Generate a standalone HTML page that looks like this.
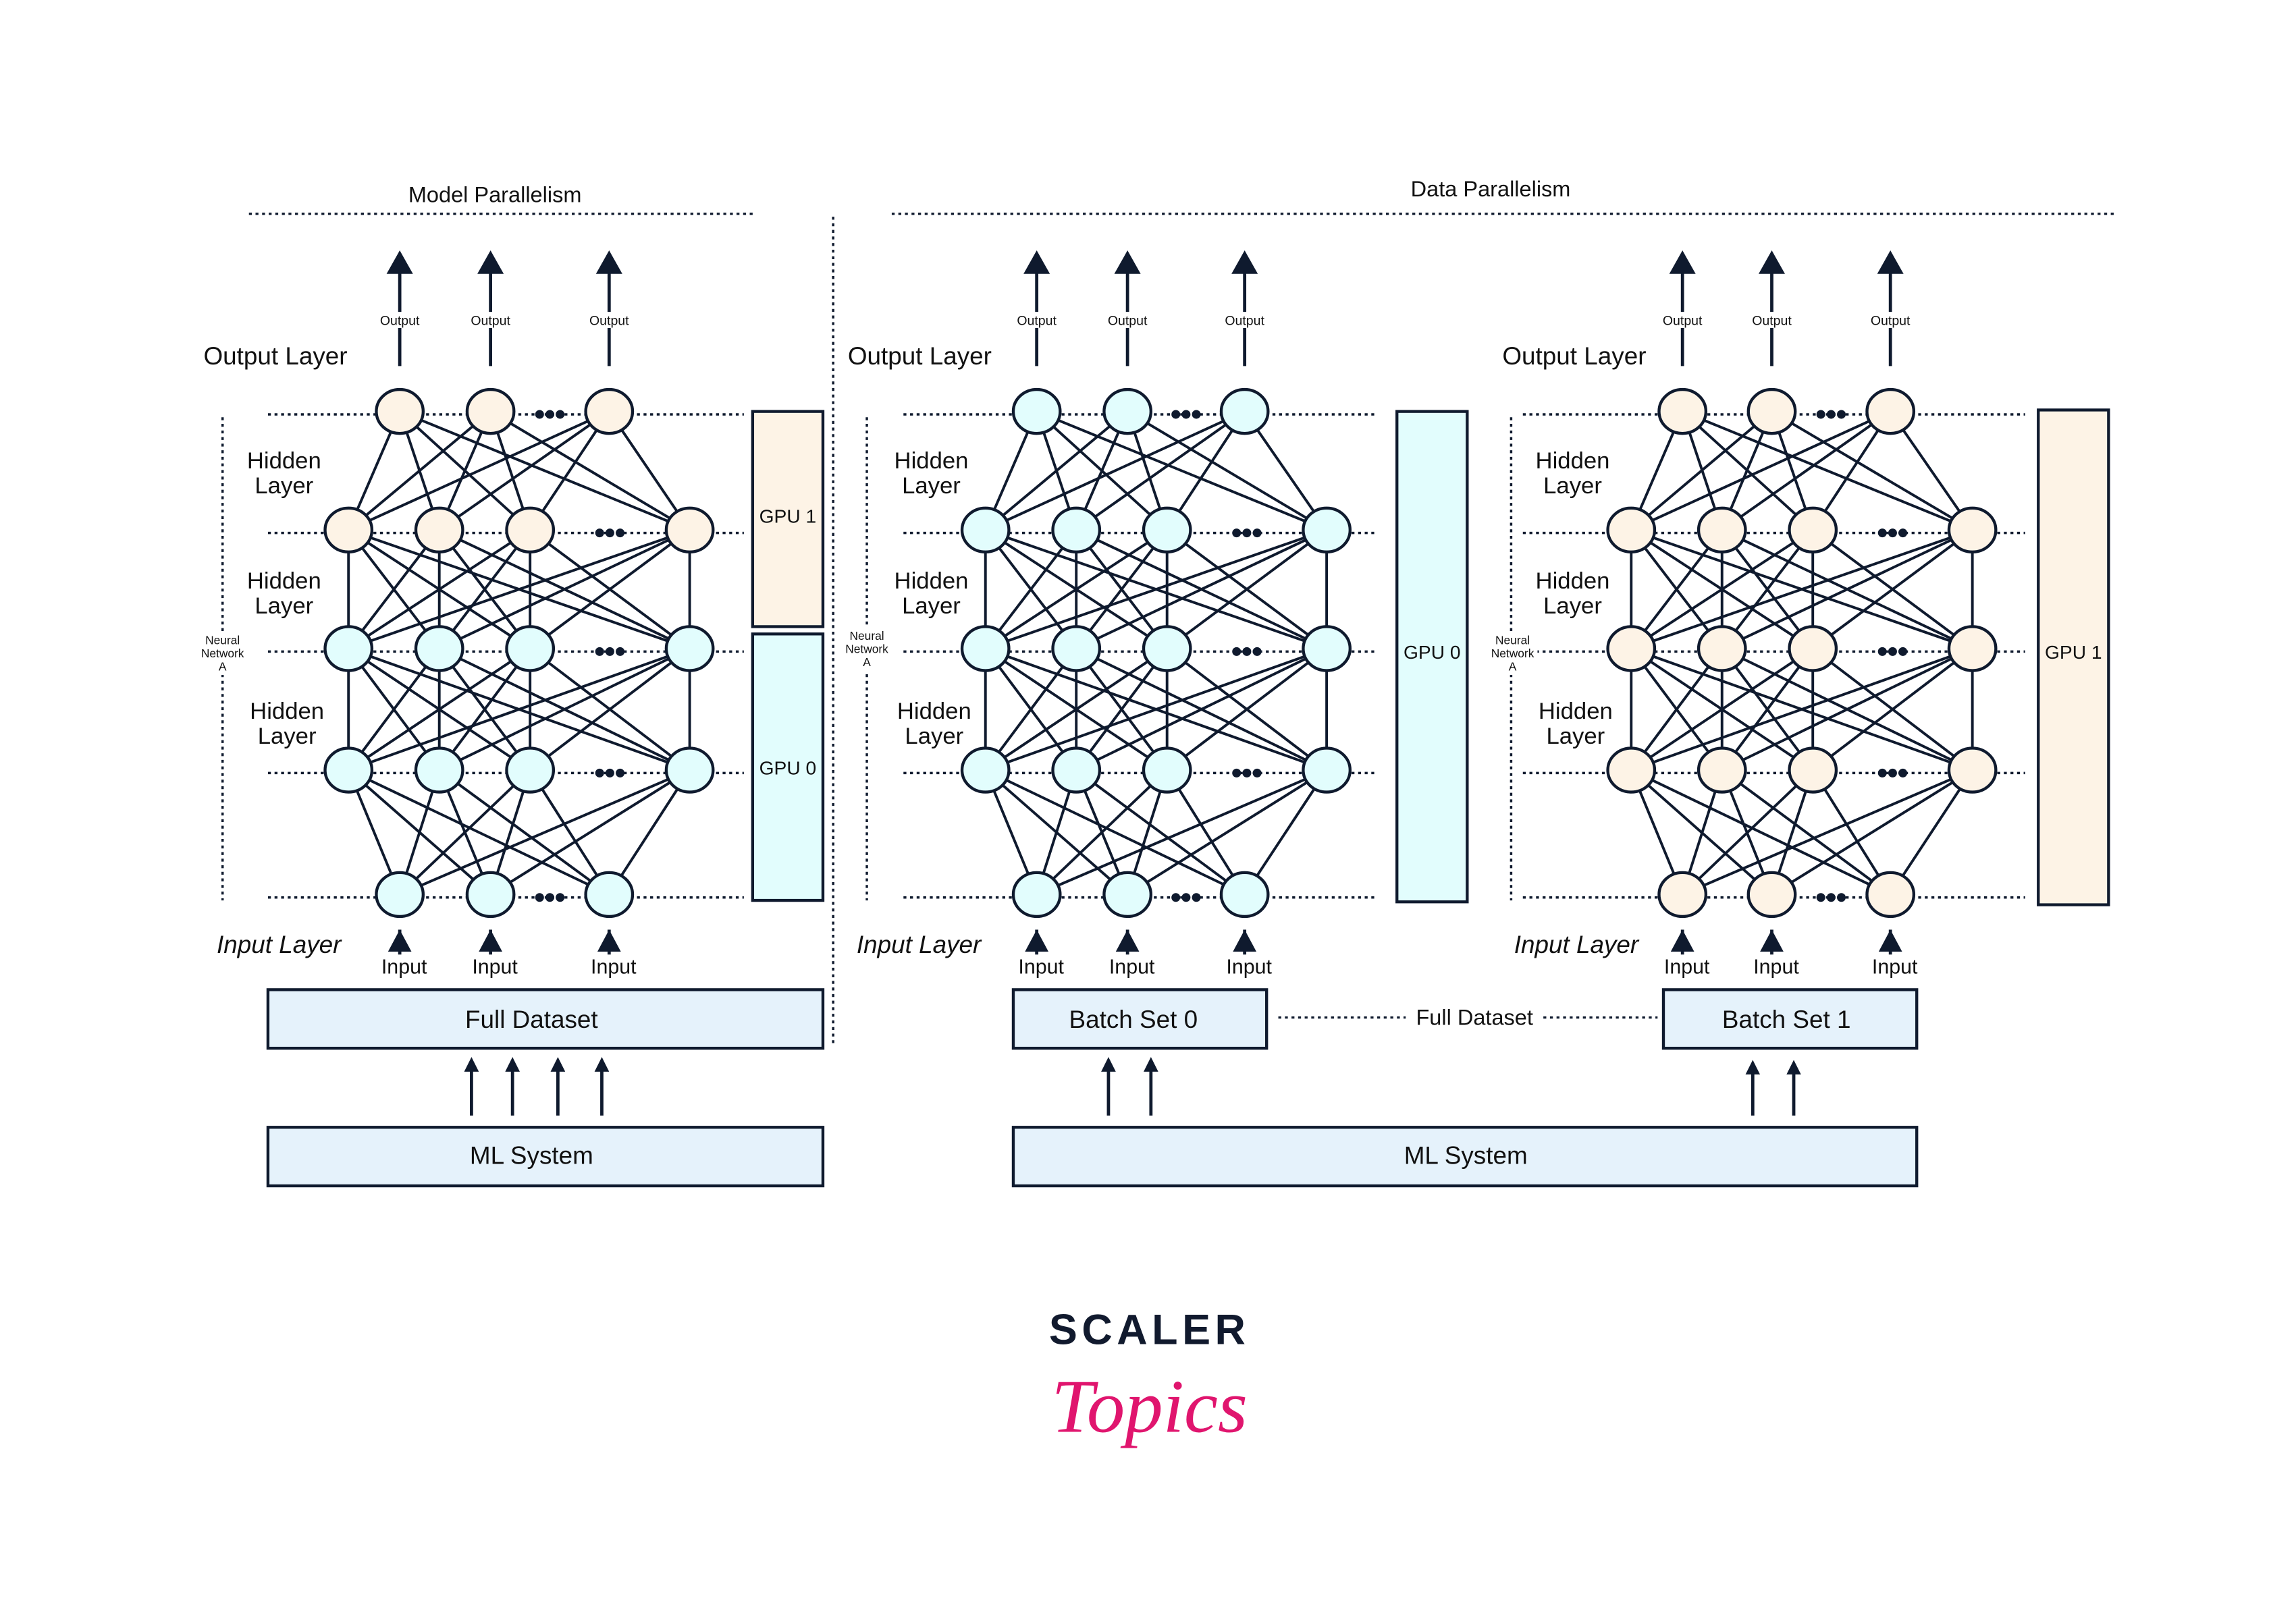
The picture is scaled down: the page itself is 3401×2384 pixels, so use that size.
<!DOCTYPE html>
<html><head><meta charset="utf-8"><style>
html,body{margin:0;padding:0;background:#fff}
svg{display:block}
text{font-family:"Liberation Sans","DejaVu Sans",sans-serif;fill:#111}
</style></head><body>
<svg id="s" xmlns="http://www.w3.org/2000/svg" width="3401" height="2384" viewBox="0 0 1568 1099">
<defs><marker id="ah" markerWidth="10" markerHeight="10" refX="5" refY="5" orient="auto" markerUnits="userSpaceOnUse" viewBox="0 0 10 10"><path d="M0,0 L10,5 L0,10 z" fill="#0f1a2e"/></marker></defs>
<rect width="1568" height="1099" fill="#fff"/>
<g id="dots" stroke="#0f1a2e" stroke-width="1.6" stroke-dasharray="2,2.5" fill="none">
<line x1="170" y1="146" x2="514" y2="146"/>
<line x1="609" y1="146" x2="1445" y2="146"/>
<line x1="569" y1="148" x2="569" y2="715"/>
<line x1="152" y1="285" x2="152" y2="615"/>
<line x1="592" y1="285" x2="592" y2="615"/>
<line x1="1032" y1="285" x2="1032" y2="615"/>
</g>
<g id="net"></g>
<g font-size="15">
<text x="338" y="138" text-anchor="middle">Model Parallelism</text>
<text x="1018" y="134" text-anchor="middle">Data Parallelism</text>
</g>
<g font-size="17">
<text x="139" y="249">Output Layer</text>
<text x="579" y="249">Output Layer</text>
<text x="1026" y="249">Output Layer</text>
<text x="148" y="651" font-style="italic">Input Layer</text>
<text x="585" y="651" font-style="italic">Input Layer</text>
<text x="1034" y="651" font-style="italic">Input Layer</text>
</g>
<g font-size="16" text-anchor="middle">
<text x="194" y="320">Hidden</text><text x="194" y="337">Layer</text>
<text x="194" y="402">Hidden</text><text x="194" y="419">Layer</text>
<text x="196" y="491">Hidden</text><text x="196" y="508">Layer</text>
<text x="636" y="320">Hidden</text><text x="636" y="337">Layer</text>
<text x="636" y="402">Hidden</text><text x="636" y="419">Layer</text>
<text x="638" y="491">Hidden</text><text x="638" y="508">Layer</text>
<text x="1074" y="320">Hidden</text><text x="1074" y="337">Layer</text>
<text x="1074" y="402">Hidden</text><text x="1074" y="419">Layer</text>
<text x="1076" y="491">Hidden</text><text x="1076" y="508">Layer</text>
</g>
<g fill="#fff">
<rect x="135" y="431" width="34" height="30"/>
<rect x="575" y="428" width="34" height="30"/>
<rect x="1016" y="431" width="34" height="30"/>
</g>
<g font-size="8" text-anchor="middle">
<text x="152" y="440">Neural</text><text x="152" y="449">Network</text><text x="152" y="458">A</text>
<text x="592" y="437">Neural</text><text x="592" y="446">Network</text><text x="592" y="455">A</text>
<text x="1033" y="440">Neural</text><text x="1033" y="449">Network</text><text x="1033" y="458">A</text>
</g>
<g stroke="#0f1a2e" stroke-width="2">
<rect x="514" y="281" width="48" height="147" fill="#fdf3e6"/>
<rect x="514" y="433" width="48" height="182" fill="#e2fdfd"/>
<rect x="954" y="281" width="48" height="335" fill="#e2fdfd"/>
<rect x="1392" y="280" width="48" height="338" fill="#fdf3e6"/>
<rect x="183" y="676" width="379" height="40" fill="#e5f2fb"/>
<rect x="183" y="770" width="379" height="40" fill="#e5f2fb"/>
<rect x="692" y="676" width="173" height="40" fill="#e5f2fb"/>
<rect x="1136" y="676" width="173" height="40" fill="#e5f2fb"/>
<rect x="692" y="770" width="617" height="40" fill="#e5f2fb"/>
</g>
<g font-size="13" text-anchor="middle">
<text x="538" y="357">GPU 1</text>
<text x="538" y="529">GPU 0</text>
<text x="978" y="450">GPU 0</text>
<text x="1416" y="450">GPU 1</text>
</g>
<g font-size="17" text-anchor="middle">
<text x="363" y="702">Full Dataset</text>
<text x="363" y="795">ML System</text>
<text x="774" y="702">Batch Set 0</text>
<text x="1220" y="702">Batch Set 1</text>
<text x="1001" y="795">ML System</text>
</g>
<line x1="873" y1="695" x2="960" y2="695" stroke="#0f1a2e" stroke-width="1.5" stroke-dasharray="2,2.5"/>
<line x1="1054" y1="695" x2="1132" y2="695" stroke="#0f1a2e" stroke-width="1.5" stroke-dasharray="2,2.5"/>
<text x="1007" y="700" font-size="15" text-anchor="middle">Full Dataset</text>
<g stroke="#0f1a2e" stroke-width="2.2" marker-end="url(#ah)">
<line x1="322" y1="762" x2="322" y2="727"/><line x1="350" y1="762" x2="350" y2="727"/>
<line x1="381" y1="762" x2="381" y2="727"/><line x1="411" y1="762" x2="411" y2="727"/>
<line x1="757" y1="762" x2="757" y2="727"/><line x1="786" y1="762" x2="786" y2="727"/>
<line x1="1197" y1="762" x2="1197" y2="729"/><line x1="1225" y1="762" x2="1225" y2="729"/>
</g>
<text x="785" y="918" font-size="29" font-weight="bold" text-anchor="middle" letter-spacing="3" style="fill:#111a2e">SCALER</text>
<text x="785" y="978" font-size="52" font-style="italic" text-anchor="middle" style="fill:#e0156e;font-family:'Liberation Serif',serif">Topics</text>
<script>
(function(){
var g=document.getElementById('net'),NS='http://www.w3.org/2000/svg';
function el(n,a,p){var e=document.createElementNS(NS,n);for(var k in a)e.setAttribute(k,a[k]);(p||g).appendChild(e);return e;}
var nets=[
 {o:[273,335,416],h:[238,300,362,471],c:['#fdf3e6','#fdf3e6','#e2fdfd','#e2fdfd','#e2fdfd'],dl:183,dr:508},
 {o:[708,770,850],h:[673,735,797,906],c:['#e2fdfd','#e2fdfd','#e2fdfd','#e2fdfd','#e2fdfd'],dl:617,dr:940},
 {o:[1149,1210,1291],h:[1114,1176,1238,1347],c:['#fdf3e6','#fdf3e6','#fdf3e6','#fdf3e6','#fdf3e6'],dl:1040,dr:1383}];
var ys=[281,362,443,526,611];
nets.forEach(function(n){
 var rows=[n.o,n.h,n.h,n.h,n.o];
 ys.forEach(function(y,i){
  el('line',{x1:n.dl,y1:y+2,x2:n.dr,y2:y+2,stroke:'#0f1a2e','stroke-width':1.6,'stroke-dasharray':'2,2.5'});
 });
 for(var i=0;i<4;i++){rows[i].forEach(function(a){rows[i+1].forEach(function(b){
  el('line',{x1:a,y1:ys[i],x2:b,y2:ys[i+1],stroke:'#0f1a2e','stroke-width':1.8});});});}
 ys.forEach(function(y,i){var r=rows[i];var cx=(r[r.length-2]+r[r.length-1])/2;
  [-7,0,7].forEach(function(d){el('circle',{cx:cx+d,cy:y+2,r:3,fill:'#0f1a2e'});});});
 ys.forEach(function(y,i){rows[i].forEach(function(x){
  el('ellipse',{cx:x,cy:y,rx:16,ry:15,fill:n.c[i],stroke:'#0f1a2e','stroke-width':2});});});
 n.o.forEach(function(x){
  el('line',{x1:x,y1:250,x2:x,y2:186,stroke:'#0f1a2e','stroke-width':2.2});
  el('path',{d:'M'+(x-9)+',187 L'+x+',171 L'+(x+9)+',187 z',fill:'#0f1a2e'});
  el('rect',{x:x-15,y:213,width:30,height:11,fill:'#fff'});
  var t=el('text',{x:x,y:222,'font-size':9,'text-anchor':'middle'});t.textContent='Output';
  el('line',{x1:x,y1:635,x2:x,y2:652,stroke:'#0f1a2e','stroke-width':2.2});
  el('path',{d:'M'+(x-8)+',650 L'+x+',635 L'+(x+8)+',650 z',fill:'#0f1a2e'});
  var u=el('text',{x:x+3,y:665,'font-size':14,'text-anchor':'middle'});u.textContent='Input';
 });
});
})();
</script>
</svg>
</body></html>
